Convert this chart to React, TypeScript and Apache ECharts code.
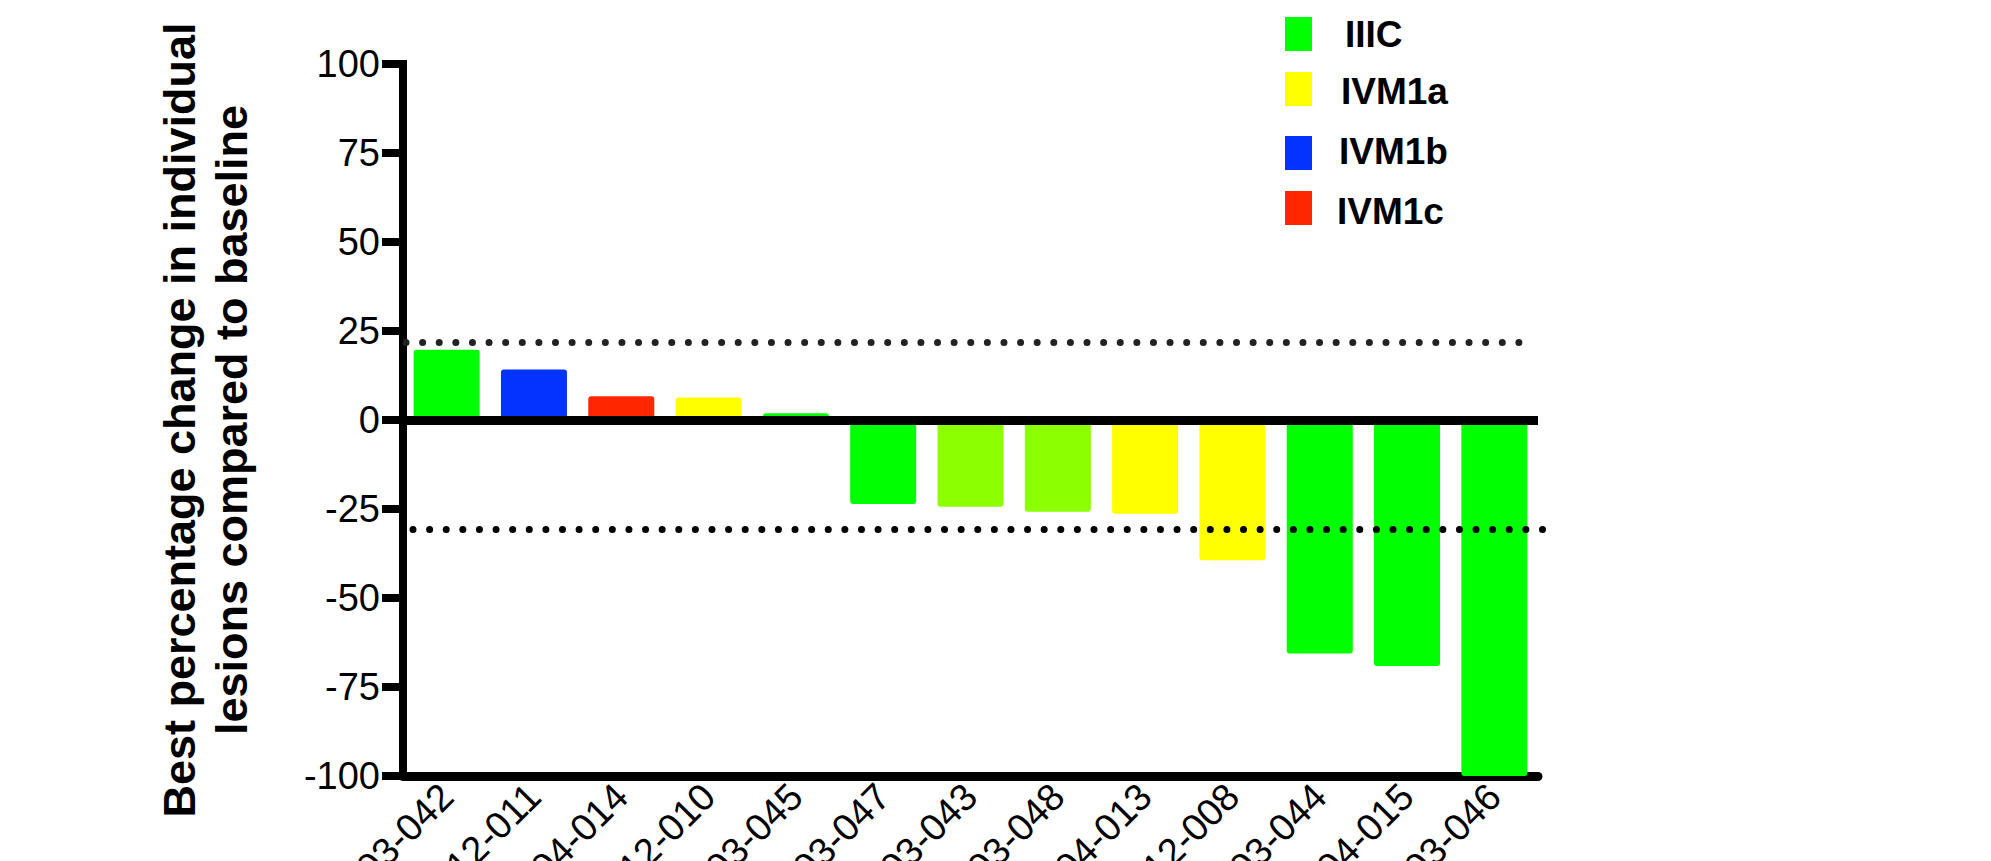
import React, { useEffect, useRef } from "react";
import * as echarts from "echarts";

const patients = ["03-042", "12-011", "04-014", "12-010", "03-045", "03-047", "03-043", "03-048", "04-013", "12-008", "03-044", "04-015", "03-046"];
const bestChange = [19.7, 14.2, 6.7, 6.3, 1.9, -23.6, -24.4, -25.8, -26.3, -39.4, -65.6, -69.1, -100];
const barColors = ["#00FF00", "#0433FF", "#FF2600", "#FFFF00", "#00FF00", "#00FF00", "#8CFF00", "#8CFF00", "#FFFF00", "#FFFF00", "#00FF00", "#00FF00", "#00FF00"];
const legendNames = ["IIIC", "IVM1a", "IVM1b", "IVM1c"];
const legendColors = ["#00FF00", "#FFFF00", "#0433FF", "#FF2600"];
const thresholds = [21.7, -30.8];
const yTicks = { min: -100, max: 100, interval: 25 };

const FONT = "'Liberation Sans', Arial, Helvetica, sans-serif";

export default function App() {
  const ref = useRef<HTMLDivElement>(null);
  useEffect(() => {
    if (!ref.current) return;
    const chart = echarts.init(ref.current, null, { renderer: "svg" });
    const legendRectX = 1285;
    const legendRectTops = [17, 72, 136, 191];
    const legendTextX = [1345, 1341, 1339, 1337];
    const legendTextY = [34, 91, 151, 211];
    const graphics: any[] = [];
    legendNames.forEach((n, i) => {
      graphics.push({
        type: "rect",
        shape: { x: legendRectX, y: legendRectTops[i], width: 27, height: 34 },
        style: { fill: legendColors[i] },
      });
      graphics.push({
        type: "text",
        x: legendTextX[i],
        y: legendTextY[i],
        style: {
          text: n,
          fill: "#000",
          font: `bold 37px ${FONT}`,
          textVerticalAlign: "middle",
          verticalAlign: "middle",
        },
      });
    });

    chart.setOption({
      animation: false,
      backgroundColor: "#fff",
      grid: { left: 403, right: 453, top: 64, bottom: 85, containLabel: false, outerBoundsMode: "none" },
      graphic: graphics,
      xAxis: {
        type: "category",
        data: patients,
        axisLine: { onZero: false, lineStyle: { color: "#000", width: 9 } },
        axisTick: { show: false },
        axisLabel: {
          rotate: 45,
          interval: 0,
          margin: 14,
          color: "#000",
          fontSize: 38,
          fontFamily: FONT,
        },
      },
      yAxis: {
        type: "value",
        min: yTicks.min,
        max: yTicks.max,
        interval: yTicks.interval,
        splitLine: { show: false },
        axisLine: { show: true, lineStyle: { color: "#000", width: 8, cap: "square" } },
        axisTick: { show: true, length: 21, lineStyle: { color: "#000", width: 8 } },
        axisLabel: { color: "#000", fontSize: 38, fontFamily: FONT, margin: 23 },
        name: "Best percentage change in individual\nlesions compared to baseline",
        nameLocation: "middle",
        nameGap: 146,
        nameTextStyle: {
          color: "#000",
          fontSize: 45,
          fontWeight: "bold",
          fontFamily: FONT,
          lineHeight: 52,
        },
      },
      series: [
        {
          type: "bar",
          data: bestChange.map((v, i) => ({ value: v, itemStyle: { color: barColors[i] } })),
          barWidth: 66,
          itemStyle: { borderRadius: 3 },
          markLine: {
            silent: true,
            symbol: "none",
            label: { show: false },
            data: [
              [
                { x: 406, yAxis: thresholds[0], lineStyle: { type: [0.01, 16.6], cap: "round", width: 7, color: "#222" } },
                { x: 1523, yAxis: thresholds[0] },
              ],
              [
                { x: 413, yAxis: thresholds[1], lineStyle: { type: [0.01, 16.6], cap: "round", width: 7, color: "#000" } },
                { x: 1553, yAxis: thresholds[1] },
              ],
              { yAxis: 0, lineStyle: { type: "solid", width: 9, color: "#000" } },
            ],
          },
        },
      ],
    });
    return () => chart.dispose();
  }, []);
  return <div ref={ref} style={{ position: "fixed", left: 0, top: 0, width: 1991, height: 861 }} />;
}
